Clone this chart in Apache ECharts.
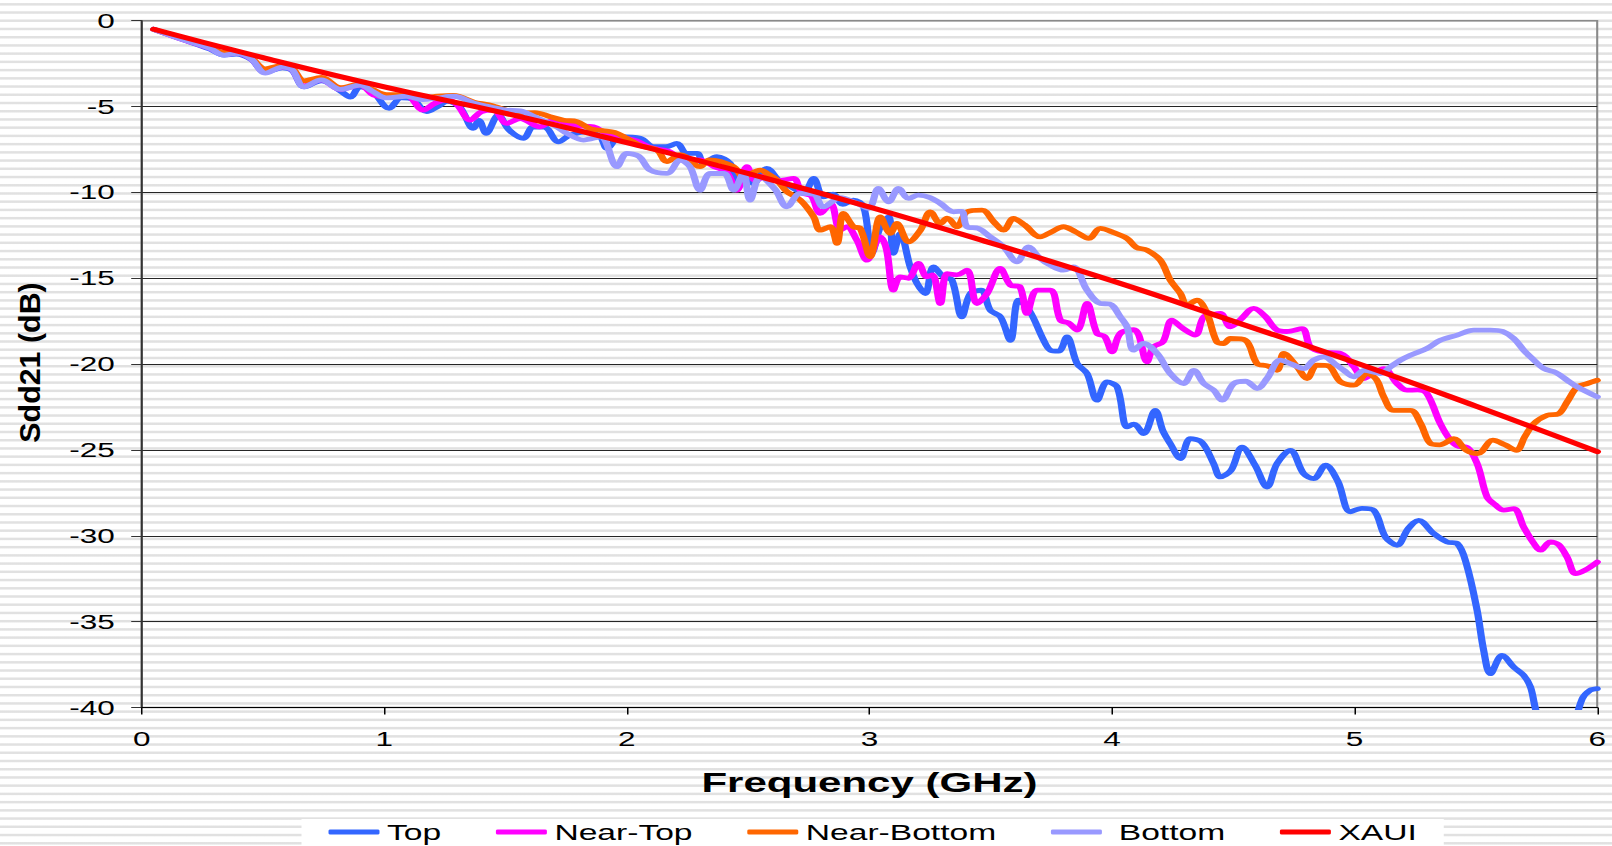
<!DOCTYPE html>
<html>
<head>
<meta charset="utf-8">
<title>Sdd21 vs Frequency</title>
<script src="https://cdn.jsdelivr.net/npm/echarts@6/dist/echarts.min.js"></script>
<style>
  html, body {
    margin: 0;
    padding: 0;
    width: 1612px;
    height: 846px;
    overflow: hidden;
  }
  body {
    /* light horizontal hatch behind the whole chart */
    background: repeating-linear-gradient(to bottom,
      #ffffff 0px, #ffffff 2.6px,
      #ededed 3.1px, #e1e1e1 3.6px, #e1e1e1 5.0px, #ededed 5.5px,
      #ffffff 6.0px, #ffffff 8.225px);
  }
  /* the chart is laid out narrow and widened horizontally */
  #chart {
    width: 1074.667px;
    height: 846px;
    transform: scaleX(1.5);
    transform-origin: 0 0;
  }
</style>
</head>
<body>
<div id="chart"></div>
<script>
// Frequency (GHz) and Sdd21 (dB) for each trace
const topFreq = [0.05,0.17,0.28,0.34,0.39,0.45,0.51,0.58,0.62,0.67,
  0.74,0.82,0.86,0.90,0.95,1.02,1.07,1.12,1.175,1.22,
  1.26,1.31,1.367,1.39,1.42,1.47,1.515,1.574,1.614,1.66,
  1.718,1.766,1.835,1.89,1.918,1.972,2.055,2.11,2.16,2.206,
  2.247,2.29,2.316,2.371,2.426,2.454,2.495,2.522,2.577,2.632,
  2.68,2.728,2.77,2.81,2.85,2.89,2.934,2.976,3.01,3.045,
  3.079,3.099,3.127,3.168,3.196,3.23,3.264,3.306,3.34,3.381,
  3.416,3.46,3.498,3.54,3.581,3.615,3.66,3.718,3.746,3.78,
  3.814,3.856,3.897,3.938,3.98,4.021,4.062,4.09,4.13,4.178,
  4.21,4.24,4.282,4.323,4.37,4.419,4.447,4.49,4.536,4.59,
  4.639,4.68,4.735,4.79,4.831,4.88,4.93,4.983,5.03,5.079,
  5.127,5.175,5.22,5.264,5.326,5.381,5.423,5.46,5.505,5.532,
  5.56,5.608,5.656,5.697,5.725,5.75,5.8,5.85,5.9,5.938,
  5.97,6.0];
const topDb = [-0.5,-1.1,-1.65,-2.0,-1.95,-2.25,-3.0,-2.75,-2.9,-3.85,
  -3.5,-4.1,-4.45,-3.85,-4.1,-5.1,-4.5,-4.6,-5.3,-5.0,
  -4.7,-5.0,-6.27,-5.8,-6.56,-5.5,-6.37,-6.85,-6.18,-6.2,
  -7.05,-6.66,-6.47,-6.76,-7.44,-6.76,-6.85,-7.34,-7.34,-7.15,
  -7.73,-7.73,-8.31,-7.92,-8.31,-9.28,-8.8,-9.48,-8.6,-9.38,
  -9.7,-10.06,-9.18,-10.26,-10.1,-10.7,-10.45,-10.84,-13.55,-12.0,
  -11.42,-13.55,-12.39,-14.34,-15.3,-15.89,-14.34,-14.92,-15.1,-17.25,
  -15.89,-15.7,-16.86,-17.25,-18.61,-16.28,-16.9,-18.61,-19.19,-19.25,
  -18.41,-19.97,-20.55,-22.1,-21.04,-21.33,-23.66,-23.5,-24.05,-22.69,
  -23.9,-24.63,-25.5,-24.34,-24.55,-25.8,-26.57,-26.2,-24.83,-25.9,
  -27.16,-25.8,-25.02,-26.38,-26.67,-25.89,-26.8,-28.6,-28.4,-28.51,
  -30.07,-30.55,-29.6,-29.1,-29.87,-30.36,-30.45,-31.6,-34.34,-36.67,
  -38.03,-36.96,-37.65,-38.13,-38.81,-40.3,-42.0,-42.5,-41.2,-39.5,
  -39.0,-38.9];

const nearTopFreq = [0.05,0.17,0.28,0.34,0.39,0.45,0.51,0.58,0.62,0.67,
  0.74,0.82,0.90,0.955,1.02,1.09,1.16,1.21,1.26,1.30,
  1.354,1.40,1.45,1.505,1.56,1.642,1.70,1.78,1.862,1.92,
  1.98,2.04,2.1,2.17,2.25,2.3,2.36,2.41,2.454,2.495,
  2.53,2.58,2.63,2.687,2.72,2.76,2.797,2.84,2.879,2.907,
  2.948,2.99,3.045,3.07,3.099,3.127,3.16,3.202,3.237,3.26,
  3.292,3.32,3.36,3.402,3.443,3.485,3.539,3.581,3.62,3.649,
  3.691,3.746,3.787,3.82,3.856,3.897,3.938,3.97,4.0,4.034,
  4.09,4.11,4.144,4.171,4.21,4.247,4.29,4.343,4.378,4.42,
  4.447,4.488,4.53,4.584,4.63,4.68,4.72,4.783,4.818,4.87,
  4.942,4.997,5.037,5.07,5.12,5.175,5.216,5.26,5.298,5.353,
  5.395,5.43,5.46,5.505,5.546,5.58,5.615,5.656,5.697,5.739,
  5.766,5.808,5.84,5.876,5.911,5.95,6.0];
const nearTopDb = [-0.5,-1.1,-1.6,-1.95,-1.9,-2.2,-3.0,-2.7,-2.85,-3.8,
  -3.45,-4.0,-3.75,-4.33,-4.45,-4.35,-5.2,-4.8,-4.6,-4.9,
  -5.79,-5.3,-5.2,-5.98,-5.7,-6.18,-5.79,-6.1,-6.18,-6.6,
  -6.8,-7.0,-7.4,-7.6,-8.2,-8.1,-8.5,-8.8,-9.87,-8.5,
  -9.3,-9.0,-9.3,-9.18,-10.0,-10.2,-11.22,-10.64,-12.2,-12.0,
  -12.78,-13.95,-12.59,-13.3,-15.69,-14.92,-15.0,-14.14,-14.92,-14.8,
  -16.47,-14.73,-14.8,-14.53,-16.47,-15.89,-14.43,-15.4,-15.5,-17.05,
  -15.69,-15.69,-17.44,-17.6,-18.02,-16.47,-18.21,-18.4,-19.29,-18.21,
  -18.0,-18.3,-19.87,-19.0,-18.7,-17.44,-17.9,-18.31,-17.25,-17.1,
  -17.05,-17.83,-17.4,-16.76,-17.2,-18.02,-18.1,-17.93,-19.0,-19.3,
  -19.38,-20.16,-20.84,-20.6,-20.26,-21.13,-21.52,-21.5,-21.71,-23.46,
  -24.43,-24.8,-24.83,-25.8,-27.74,-28.2,-28.51,-28.42,-29.49,-30.45,
  -30.84,-30.36,-30.5,-31.24,-32.2,-32.0,-31.53];

const nearBottomFreq = [0.05,0.17,0.28,0.34,0.39,0.45,0.51,0.58,0.62,0.67,
  0.74,0.82,0.90,0.95,1.01,1.09,1.16,1.22,1.285,1.37,
  1.43,1.478,1.56,1.62,1.684,1.74,1.794,1.85,1.9,1.95,
  2.0,2.06,2.124,2.165,2.22,2.302,2.34,2.44,2.48,2.55,
  2.577,2.618,2.66,2.715,2.77,2.797,2.838,2.866,2.893,2.934,
  2.962,3.003,3.045,3.086,3.113,3.161,3.21,3.251,3.292,3.32,
  3.361,3.402,3.464,3.512,3.553,3.594,3.64,3.704,3.75,3.8,
  3.85,3.904,3.952,4.0,4.062,4.1,4.144,4.199,4.24,4.282,
  4.309,4.35,4.39,4.432,4.46,4.488,4.55,4.598,4.64,4.68,
  4.708,4.763,4.804,4.845,4.89,4.942,4.997,5.052,5.09,5.12,
  5.161,5.23,5.272,5.313,5.35,5.409,5.46,5.508,5.57,5.62,
  5.667,5.701,5.739,5.794,5.84,5.876,5.918,5.96,6.0];
const nearBottomDb = [-0.5,-1.05,-1.55,-1.85,-1.85,-2.15,-2.8,-2.6,-2.75,-3.5,
  -3.3,-3.9,-3.7,-4.0,-4.3,-4.3,-4.5,-4.4,-4.35,-4.75,
  -4.9,-5.1,-5.4,-5.35,-5.59,-5.8,-5.88,-6.3,-6.4,-6.5,
  -6.85,-7.3,-7.53,-8.21,-7.8,-8.5,-8.1,-8.5,-9.09,-8.7,
  -8.89,-9.28,-9.96,-10.45,-11.42,-12.2,-12.0,-12.97,-11.22,-12.0,
  -12.1,-13.75,-11.42,-12.39,-11.81,-12.88,-12.2,-11.13,-11.81,-11.5,
  -12.0,-11.13,-11.03,-11.71,-12.2,-11.52,-11.9,-12.59,-12.3,-12.0,
  -12.3,-12.68,-12.1,-12.3,-12.68,-13.2,-13.36,-13.95,-15.11,-15.89,
  -16.57,-16.28,-17.0,-18.71,-18.8,-18.51,-18.61,-19.97,-20.1,-20.36,
  -19.38,-20.16,-20.84,-20.06,-20.1,-21.04,-21.23,-20.55,-20.9,-21.91,
  -22.69,-22.69,-23.46,-24.63,-24.7,-24.34,-25.02,-25.21,-24.43,-24.7,
  -25.02,-24.24,-23.46,-22.98,-22.9,-22.2,-21.33,-21.13,-20.94];

const bottomFreq = [0.05,0.17,0.28,0.34,0.39,0.45,0.51,0.58,0.62,0.67,
  0.74,0.82,0.90,0.95,1.01,1.09,1.16,1.22,1.285,1.37,
  1.43,1.5,1.56,1.62,1.711,1.753,1.821,1.89,1.959,2.0,
  2.05,2.096,2.165,2.22,2.26,2.302,2.344,2.4,2.44,2.48,
  2.508,2.55,2.61,2.66,2.715,2.77,2.81,2.88,2.948,2.996,
  3.037,3.079,3.12,3.161,3.202,3.25,3.292,3.347,3.38,3.402,
  3.45,3.498,3.553,3.608,3.656,3.70,3.746,3.8,3.84,3.897,
  3.952,3.99,4.034,4.062,4.089,4.13,4.186,4.24,4.295,4.337,
  4.378,4.419,4.454,4.502,4.55,4.598,4.639,4.694,4.74,4.79,
  4.831,4.873,4.92,4.955,4.997,5.04,5.107,5.148,5.189,5.23,
  5.298,5.353,5.423,5.491,5.56,5.61,5.656,5.697,5.725,5.78,
  5.83,5.876,5.918,6.0];
const bottomDb = [-0.5,-1.1,-1.6,-2.0,-1.9,-2.2,-3.05,-2.7,-2.85,-3.85,
  -3.45,-4.0,-3.75,-4.1,-4.5,-4.4,-4.6,-4.5,-4.4,-4.8,
  -5.0,-5.2,-5.25,-5.6,-6.18,-6.56,-6.95,-6.76,-8.5,-7.73,
  -7.9,-8.7,-8.89,-8.12,-8.5,-9.87,-8.89,-8.9,-9.87,-8.9,
  -10.45,-9.09,-9.8,-10.84,-10.06,-10.1,-10.84,-10.3,-10.64,-10.93,
  -9.77,-10.55,-9.77,-10.35,-10.16,-10.3,-10.64,-11.13,-11.1,-12.0,
  -12.1,-12.59,-13.17,-14.04,-13.17,-13.8,-14.24,-14.53,-14.34,-15.69,
  -16.47,-16.5,-17.25,-17.83,-19.19,-18.8,-19.38,-20.55,-21.13,-20.36,
  -21.13,-21.52,-22.1,-21.13,-21.0,-21.42,-20.84,-19.77,-20.0,-20.26,
  -19.77,-19.58,-20.0,-20.36,-20.74,-20.36,-20.55,-20.16,-19.77,-19.48,
  -19.09,-18.61,-18.31,-18.02,-18.02,-18.1,-18.51,-19.19,-19.58,-20.26,
  -20.5,-20.94,-21.33,-21.91];

// XAUI insertion-loss limit
const xauiFreq = [0.05,0.5,1,1.5,2,2.5,3,3.5,4,4.5,5,5.5,6];
const xauiDb = [-0.5,-2.15,-3.85,-5.4,-7.1,-8.9,-10.85,-12.95,-15.15,-17.5,-19.9,-22.45,-25.1];

// axis ticks
const xTicks = [0, 1, 2, 3, 4, 5, 6];
const yTicks = [0, -5, -10, -15, -20, -25, -30, -35, -40];

const traces = [
  { name: 'Top',         freq: topFreq,        db: topDb,        color: '#3366ff', width: 4.8 },
  { name: 'Near-Top',    freq: nearTopFreq,    db: nearTopDb,    color: '#ff00ff', width: 4.8 },
  { name: 'Near-Bottom', freq: nearBottomFreq, db: nearBottomDb, color: '#ff6600', width: 4.8 },
  { name: 'Bottom',      freq: bottomFreq,     db: bottomDb,     color: '#9999ff', width: 4.8 },
  { name: 'XAUI',        freq: xauiFreq,       db: xauiDb,       color: '#ff0000', width: 5 }
];

const FONT = '"Liberation Sans", Arial, Helvetica, sans-serif';

const chart = echarts.init(document.getElementById('chart'), null, { renderer: 'svg' });

// split lines: dark inside, grey along the top edge (0 dB)
const splitColors = yTicks.slice().reverse().map(v => (v === 0 ? '#8a8a8a' : '#262626'));

chart.setOption({
  animation: false,
  grid: {
    left: 94.47,
    right: 10.2,
    top: 20.7,
    bottom: 138.5,
    show: true,
    borderColor: '#8a8a8a',
    borderWidth: 1.4,
    backgroundColor: 'transparent'
  },
  xAxis: {
    type: 'value',
    min: xTicks[0],
    max: xTicks[xTicks.length - 1],
    interval: 1,
    name: 'Frequency (GHz)',
    nameLocation: 'middle',
    nameGap: 61,
    nameTextStyle: { fontFamily: FONT, fontSize: 28, fontWeight: 'bold', color: '#000' },
    axisLine: { show: true, onZero: false, lineStyle: { color: '#000', width: 1.2 } },
    axisTick: { show: true, inside: false, length: 7, lineStyle: { color: '#000', width: 1 } },
    axisLabel: { margin: 21, fontFamily: FONT, fontSize: 21, color: '#000' },
    splitLine: { show: false }
  },
  yAxis: {
    type: 'value',
    min: yTicks[yTicks.length - 1],
    max: yTicks[0],
    interval: 5,
    axisLine: { show: true, onZero: false, lineStyle: { color: '#333', width: 1.3 } },
    axisTick: { show: true, inside: false, length: 7, lineStyle: { color: '#333', width: 1 } },
    axisLabel: { margin: 18, fontFamily: FONT, fontSize: 21, color: '#000' },
    splitLine: { show: true, lineStyle: { color: splitColors, width: 1 } }
  },
  legend: {
    data: traces.map(t => t.name),
    left: 201,
    top: 819,
    orient: 'horizontal',
    icon: 'roundRect',
    itemWidth: 34,
    itemHeight: 5,
    itemGap: 36.5,
    padding: [2, 18, 12, 18],
    backgroundColor: '#ffffff',
    formatter: name => (name === 'Bottom' ? '\u00a0' + name : name),
    textStyle: { fontFamily: FONT, fontSize: 22.4, color: '#000' }
  },
  graphic: [{
    type: 'text',
    x: 19.5,
    y: 362.5,
    rotation: Math.PI / 2,
    scaleX: 1.52,
    scaleY: 1,
    style: {
      text: 'Sdd21 (dB)',
      font: 'bold 20px ' + FONT,
      fill: '#000',
      align: 'center',
      verticalAlign: 'middle',
      textAlign: 'center',
      textVerticalAlign: 'middle'
    }
  }],
  series: traces.map(t => ({
    name: t.name,
    type: 'line',
    data: t.freq.map((f, i) => [f, t.db[i]]),
    smooth: t.name === 'XAUI' ? true : 0.35,
    showSymbol: false,
    symbol: 'none',
    clip: true,
    lineStyle: { color: t.color, width: t.width, cap: 'round', join: 'round' },
    itemStyle: { color: t.color },
    emphasis: { disabled: true }
  }))
});
</script>
</body>
</html>
